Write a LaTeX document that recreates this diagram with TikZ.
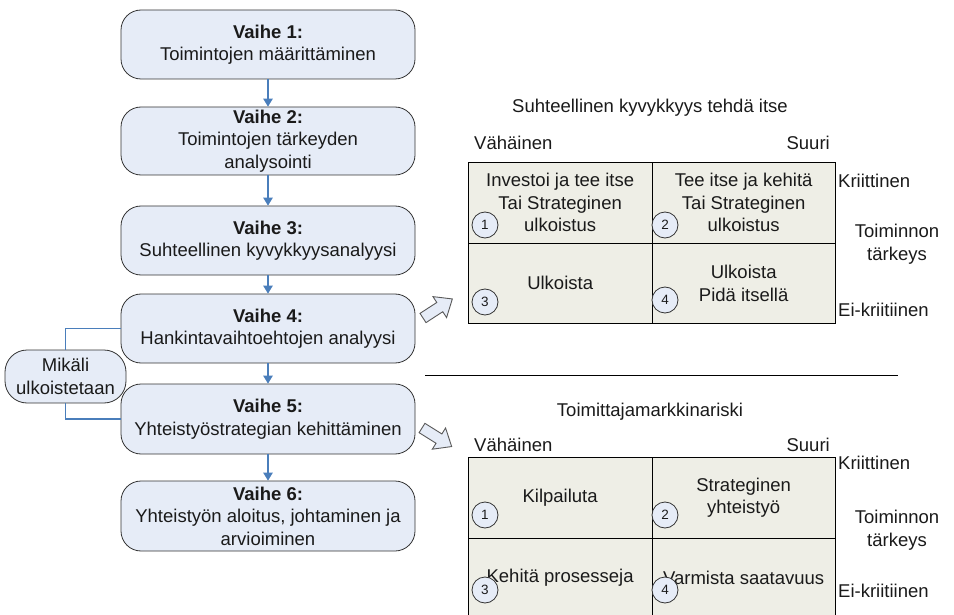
\documentclass[tikz,border=0pt]{standalone}
\usepackage{fontspec}
\setmainfont{Liberation Sans}
\usetikzlibrary{arrows.meta}
\definecolor{boxfill}{HTML}{E6ECF7}
\definecolor{cellfill}{HTML}{EEEEE6}
\definecolor{linkblue}{HTML}{4A7EBB}
\definecolor{txt}{HTML}{1A1A1A}
\begin{document}
\begin{tikzpicture}[x=1pt,y=-1pt,
  every node/.style={text=txt, font=\fontsize{18.5}{22.5}\selectfont},
  stepbox/.style={draw=black!80, line width=0.8pt, fill=boxfill, rounded corners=20pt,
     minimum width=294pt, align=center, inner sep=0pt},
  cellbox/.style={draw=black, line width=0.8pt, fill=cellfill, minimum width=183.5pt,
     minimum height=80.5pt, align=center, inner sep=0pt},
  numc/.style={circle, draw=black!80, line width=0.8pt, fill=boxfill, minimum size=26pt,
     inner sep=0pt, font=\fontsize{13.5}{15}\selectfont},
  lab/.style={inner sep=0pt, align=center},
  flow/.style={draw=linkblue, line width=1.2pt, -{Triangle[width=9.5pt,length=8pt]}},
  link/.style={draw=linkblue, line width=1.2pt},
  hollow/.style={draw=black!65, line width=0.9pt, fill=boxfill, line join=miter}
]
\useasboundingbox (0,0) rectangle (954,615);

% flow steps
\node[stepbox, minimum height=69pt] (s1) at (268,44.5) {\textbf{Vaihe 1:}\\Toimintojen määrittäminen};
\node[stepbox, minimum height=68pt] (s2) at (268,141) {\textbf{Vaihe 2:}\\Toimintojen tärkeyden\\analysointi};
\node[stepbox, minimum height=69pt] (s3) at (268,240.5) {\textbf{Vaihe 3:}\\Suhteellinen kyvykkyysanalyysi};
\node[stepbox, minimum height=69pt] (s4) at (268,328.5) {\textbf{Vaihe 4:}\\Hankintavaihtoehtojen analyysi};
\node[stepbox, minimum height=70pt] (s5) at (268,419) {\textbf{Vaihe 5:}\\Yhteistyöstrategian kehittäminen};
\node[stepbox, minimum height=70pt] (s6) at (268,516) {\textbf{Vaihe 6:}\\Yhteistyön aloitus, johtaminen ja\\arvioiminen};

\node[stepbox, minimum width=121pt, minimum height=53pt, rounded corners=22pt] (mik) at (65.5,376.5) {Mikäli\\ulkoistetaan};

\draw[flow] (s1) -- (s2);
\draw[flow] (s2) -- (s3);
\draw[flow] (s3) -- (s4);
\draw[flow] (s4) -- (s5);
\draw[flow] (s5) -- (s6);
\draw[link] (s4.west) -| (mik.north);
\draw[link] (mik.south) |- (s5.west);

% matrix 1
\node[lab] (t1) at (650,108) {Suhteellinen kyvykkyys tehdä itse};
\node[lab, anchor=west] (v1) at (474,143) {Vähäinen};
\node[lab, anchor=east] (u1) at (830,143) {Suuri};
\node[cellbox, anchor=north west] (a1) at (468,162) {Investoi ja tee itse\\Tai Strateginen\\ulkoistus};
\node[cellbox, anchor=north west] (a2) at (651.5,162) {Tee itse ja kehitä\\Tai Strateginen\\ulkoistus};
\node[cellbox, anchor=north west] (a3) at (468,242.5) {Ulkoista};
\node[cellbox, anchor=north west] (a4) at (651.5,242.5) {Ulkoista\\Pidä itsellä};
\node[numc] (n1) at (485,225) {1};
\node[numc] (n2) at (665,225) {2};
\node[numc] (n3) at (485,302) {3};
\node[numc] (n4) at (665,300) {4};
\node[lab, anchor=west] (k1) at (838,181) {Kriittinen};
\node[lab] (tt1) at (897,244) {Toiminnon\\tärkeys};
\node[lab, anchor=west] (e1) at (838,310) {Ei-kriitiinen};

% separator
\coordinate (sepa) at (425,375);
\coordinate (sepb) at (898,375);
\draw[line width=0.8pt] (sepa) -- (sepb);

% matrix 2
\node[lab] (t2) at (650,412) {Toimittajamarkkinariski};
\node[lab, anchor=west] (v2) at (474,445) {Vähäinen};
\node[lab, anchor=east] (u2) at (830,445) {Suuri};
\node[cellbox, anchor=north west] (b1) at (468,457) {Kilpailuta};
\node[cellbox, anchor=north west] (b2) at (651.5,457) {Strateginen\\yhteistyö};
\node[cellbox, anchor=north west] (b3) at (468,537.5) {Kehitä prosesseja};
\node[cellbox, anchor=north west] (b4) at (651.5,537.5) {Varmista saatavuus};
\node[numc] (m1) at (485,515) {1};
\node[numc] (m2) at (665,515) {2};
\node[numc] (m3) at (485,590) {3};
\node[numc] (m4) at (665,590) {4};
\node[lab, anchor=west] (k2) at (838,463) {Kriittinen};
\node[lab] (tt2) at (897,530) {Toiminnon\\tärkeys};
\node[lab, anchor=west] (e2) at (838,591) {Ei-kriitiinen};

% hollow arrows
\begin{scope}[shift={(423,318)}, rotate=33]
  \draw[hollow] (0,-5.5) -- (20,-5.5) -- (20,-12.5) -- (35,0) -- (20,12.5) -- (20,5.5) -- (0,5.5) -- cycle;
\end{scope}
\begin{scope}[shift={(422,428)}, rotate=-32]
  \draw[hollow] (0,-5.5) -- (20,-5.5) -- (20,-12.5) -- (35,0) -- (20,12.5) -- (20,5.5) -- (0,5.5) -- cycle;
\end{scope}
\end{tikzpicture}
\end{document}
